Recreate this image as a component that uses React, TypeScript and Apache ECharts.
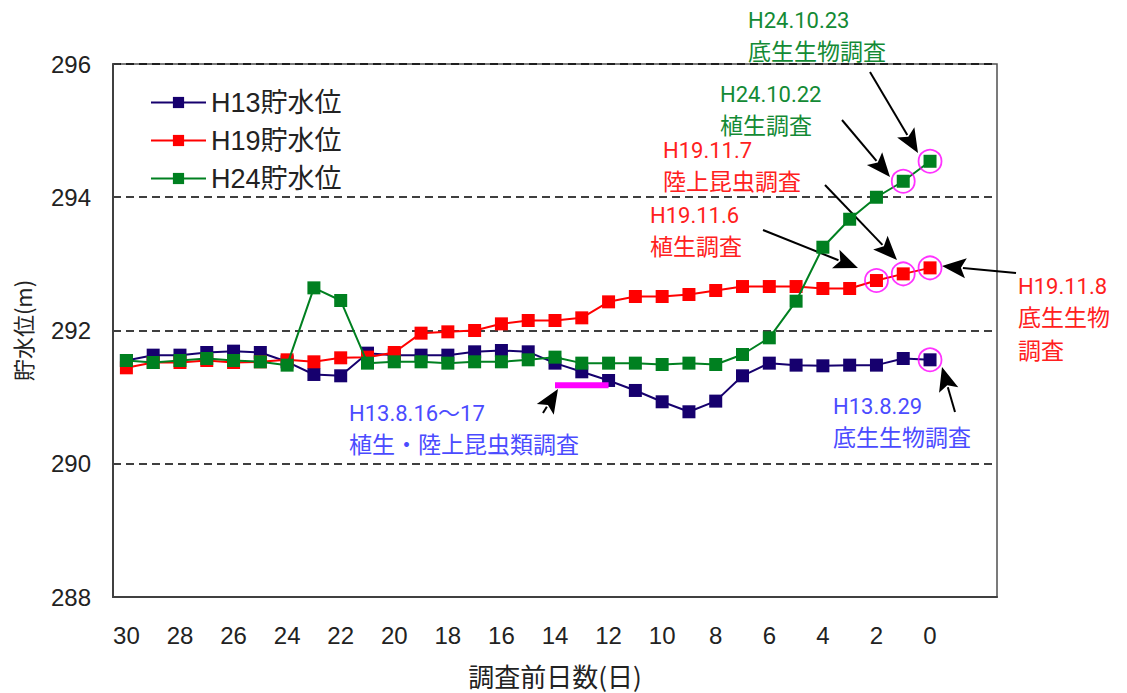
import React, { useEffect, useRef } from "react";
import * as echarts from "echarts";

// ---- data ----
const days = [
  "30", "29", "28", "27", "26", "25", "24", "23", "22", "21", "20",
  "19", "18", "17", "16", "15", "14", "13", "12", "11", "10",
  "9", "8", "7", "6", "5", "4", "3", "2", "1", "0", "-1", "-2",
];
const h13Level = [
  291.55, 291.63, 291.63, 291.67, 291.69, 291.67, 291.53, 291.34, 291.32, 291.66, 291.63,
  291.63, 291.63, 291.68, 291.70, 291.68, 291.51, 291.38, 291.25, 291.10, 290.93,
  290.78, 290.94, 291.32, 291.51, 291.48, 291.47, 291.48, 291.48, 291.58, 291.56,
];
const h19Level = [
  291.44, 291.52, 291.52, 291.55, 291.52, 291.53, 291.56, 291.53, 291.59, 291.60, 291.67,
  291.96, 291.98, 292.00, 292.10, 292.15, 292.15, 292.19, 292.43, 292.51, 292.51,
  292.54, 292.60, 292.66, 292.66, 292.66, 292.63, 292.63, 292.75, 292.85, 292.94,
];
const h24Level = [
  291.55, 291.52, 291.55, 291.58, 291.55, 291.53, 291.48, 292.64, 292.45, 291.51, 291.53,
  291.53, 291.51, 291.53, 291.53, 291.56, 291.60, 291.51, 291.51, 291.51, 291.49,
  291.51, 291.49, 291.64, 291.89, 292.44, 293.25, 293.67, 294.00, 294.24, 294.54,
];
const seriesNames = ["H13貯水位", "H19貯水位", "H24貯水位"];
const seriesColors = ["#16006e", "#ff0000", "#008020"];
// survey days highlighted with circles
const h13SurveyDays = ["0"];
const h19SurveyDays = ["2", "1", "0"];
const h24SurveyDays = ["1", "0"];
// H13.8.16~17 survey period bar
const h13BarDays = ["14", "12"];
const h13BarLevel = 291.18;
const yTicks = { min: 288, max: 296, interval: 2 };

const CJK = '"Noto Sans CJK JP", sans-serif';
const LATIN = 'Roboto, "Noto Sans CJK JP", sans-serif';
const SANS = '"Liberation Sans", Arial, "Noto Sans CJK JP", sans-serif';

function label(x: number, y: number, text: string, color: string, latin: boolean) {
  return {
    type: "text",
    x,
    y,
    style: {
      text,
      fill: color,
      font: latin ? `22px ${LATIN}` : `23px ${CJK}`,
      align: "left",
      verticalAlign: "middle",
    },
    silent: true,
  };
}

function arrow(x1: number, y1: number, x2: number, y2: number) {
  const dx = x2 - x1;
  const dy = y2 - y1;
  const len = Math.sqrt(dx * dx + dy * dy);
  const ux = dx / len;
  const uy = dy / len;
  const hl = 24;
  const hw = 10;
  const bx = x2 - ux * hl;
  const by = y2 - uy * hl;
  return {
    type: "group",
    silent: true,
    children: [
      {
        type: "line",
        shape: { x1, y1, x2: bx + ux * 3, y2: by + uy * 3 },
        style: { stroke: "#000", lineWidth: 2 },
      },
      {
        type: "polygon",
        shape: {
          points: [
            [x2, y2],
            [bx - uy * hw, by + ux * hw],
            [bx + ux * 5, by + uy * 5],
            [bx + uy * hw, by - ux * hw],
          ],
        },
        style: { fill: "#000" },
      },
    ],
  };
}

function pairs(level: number[], sel: string[]) {
  return sel.map((d) => [d, level[days.indexOf(d)]]);
}

export default function App() {
  const ref = useRef<HTMLDivElement>(null);
  useEffect(() => {
    if (!ref.current) return;
    const chart = echarts.init(ref.current, undefined, { renderer: "svg" });
    const levels = [h13Level, h19Level, h24Level];
    const lineSeries = levels.map((lv, i) => ({
      name: seriesNames[i],
      type: "line",
      data: lv,
      symbol: "rect",
      symbolSize: 13,
      itemStyle: { color: seriesColors[i] },
      lineStyle: { color: seriesColors[i], width: 2 },
      z: 3 + i,
    }));
    const circles = {
      type: "scatter",
      data: [
        ...pairs(h13Level, h13SurveyDays),
        ...pairs(h19Level, h19SurveyDays),
        ...pairs(h24Level, h24SurveyDays),
      ],
      symbol: "circle",
      symbolSize: 23,
      itemStyle: { color: "rgba(0,0,0,0)", borderColor: "#ff00ff", borderWidth: 1.8 },
      z: 10,
      silent: true,
    };
    const bar = {
      type: "line",
      data: h13BarDays.map((d) => [d, h13BarLevel]),
      symbol: "none",
      lineStyle: { color: "#ff00ff", width: 6 },
      z: 8,
      silent: true,
    };
    const blue = "#4b4bff";
    const red = "#ff2020";
    const green = "#138a35";
    chart.setOption({
      animation: false,
      backgroundColor: "#fff",
      grid: {
        left: 113,
        top: 64,
        right: 130,
        bottom: 91,
        show: true,
        borderColor: "#505050",
        borderWidth: 1.5,
        backgroundColor: "transparent",
      },
      legend: {
        left: 145,
        top: 84,
        orient: "vertical",
        itemWidth: 55,
        itemHeight: 14,
        itemGap: 11,
        data: seriesNames,
        textStyle: { fontFamily: SANS, fontSize: 27, color: "#222", lineHeight: 27 },
      },
      xAxis: {
        type: "category",
        data: days,
        boundaryGap: true,
        name: "調査前日数(日)",
        nameLocation: "middle",
        nameGap: 65,
        nameTextStyle: { fontFamily: CJK, fontSize: 26, color: "#222" },
        axisLine: { lineStyle: { color: "#404040", width: 2 } },
        axisTick: { inside: true, length: 8, interval: 0, lineStyle: { color: "#404040", width: 1.5 } },
        axisLabel: {
          interval: (idx: number) => idx % 2 === 0 && idx <= 30,
          fontFamily: SANS,
          fontSize: 24,
          color: "#222",
          margin: 26,
        },
        splitLine: { show: false },
      },
      yAxis: {
        type: "value",
        min: yTicks.min,
        max: yTicks.max,
        interval: yTicks.interval,
        name: "貯水位(m)",
        nameLocation: "middle",
        nameGap: 80,
        nameRotate: 90,
        nameTextStyle: { fontFamily: CJK, fontSize: 22, color: "#222" },
        axisLine: { show: true, lineStyle: { color: "#404040", width: 2 } },
        axisTick: { show: true, inside: true, length: 7, lineStyle: { color: "#404040", width: 1.5 } },
        axisLabel: { fontFamily: SANS, fontSize: 24, color: "#222", margin: 22 },
        splitLine: { show: true, lineStyle: { color: "#000", type: [8, 5], width: 1.5 } },
      },
      series: [...lineSeries, bar, circles],
      graphic: [
        label(748, 20, "H24.10.23", green, true),
        label(748, 50, "底生生物調査", green, false),
        label(720, 94, "H24.10.22", green, true),
        label(720, 124, "植生調査", green, false),
        label(663, 150, "H19.11.7", red, true),
        label(663, 180, "陸上昆虫調査", red, false),
        label(650, 215, "H19.11.6", red, true),
        label(650, 245, "植生調査", red, false),
        label(1018, 286, "H19.11.8", red, true),
        label(1018, 316, "底生生物", red, false),
        label(1018, 349, "調査", red, false),
        label(349, 413, "H13.8.16～17", blue, true),
        label(349, 443, "植生・陸上昆虫類調査", blue, false),
        label(833, 406, "H13.8.29", blue, true),
        label(833, 436, "底生生物調査", blue, false),
        arrow(870, 72, 918, 153),
        arrow(842, 120, 890, 177),
        arrow(825, 185, 897, 260),
        arrow(763, 230, 858, 268),
        arrow(1016, 273, 942, 266),
        arrow(955, 412, 942, 367),
        arrow(543, 413, 558, 389),
      ],
    });
    return () => chart.dispose();
  }, []);
  return (
    <div
      ref={ref}
      style={{ position: "absolute", left: 0, top: 0, width: 1127, height: 693 }}
    />
  );
}
